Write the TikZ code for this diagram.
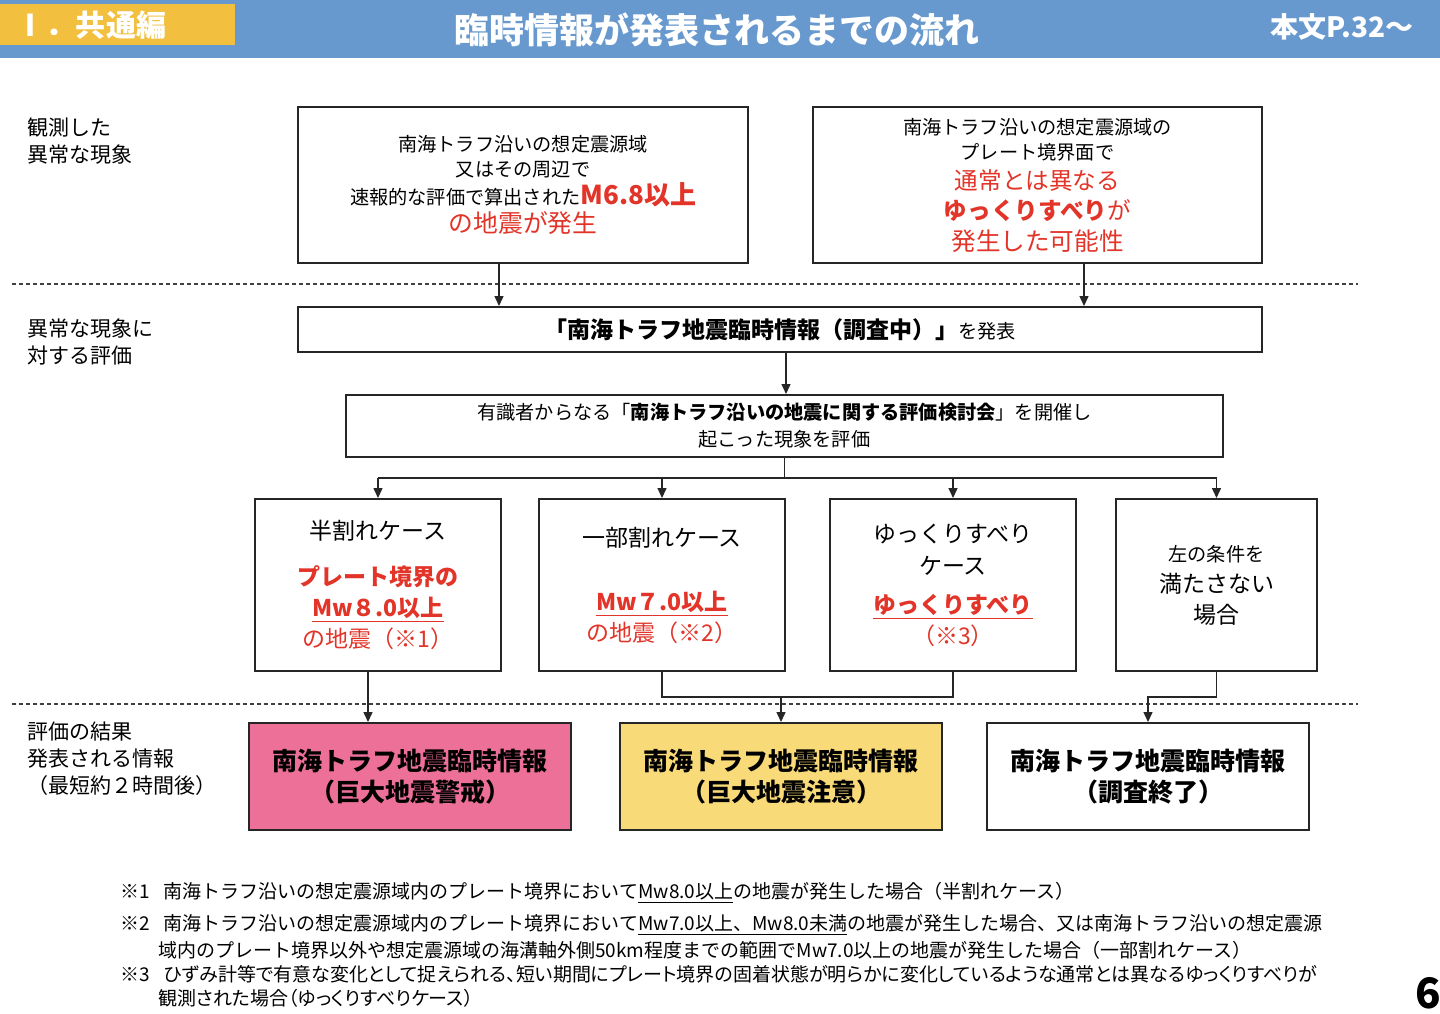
\documentclass[tikz,border=0pt]{standalone}
\usepackage{fontspec}
\setmainfont{Noto Sans CJK JP}
\usetikzlibrary{arrows.meta,positioning,calc}
\newcommand{\fsz}[2]{\fontsize{#1}{#2}\selectfont}
\definecolor{clrR}{RGB}{226,52,40}
\definecolor{clrHead}{RGB}{104,153,206}
\definecolor{clrTab}{RGB}{242,192,62}
\definecolor{clrWarn}{RGB}{236,112,152}
\definecolor{clrAdv}{RGB}{249,218,120}
\tikzset{
  headtext/.style={text=white,inner sep=0pt},
  flowbox/.style={rectangle,draw=black!85,line width=1pt,fill=white,
    align=center,inner sep=2pt,font=\fsz{9.6}{12.5}},
  casebox/.style={flowbox,minimum width=123pt,minimum height=86pt,
    font=\fsz{11.5}{15.5}},
  resultbox/.style={flowbox,minimum width=161pt,minimum height=53.5pt,
    font=\fsz{12.5}{15.5}\bfseries},
  sidelabel/.style={anchor=north west,align=left,inner sep=0pt,
    font=\fsz{10.5}{13.5}},
  note/.style={anchor=west,inner sep=0pt,font=\fsz{9.5}{12}},
  narrownote/.style={note,font=\fsz{9.5}{12}\addfontfeatures{RawFeature=+palt}},
  divider/.style={draw=black!75,line width=0.6pt,dash pattern=on 2pt off 1.5pt},
  link/.style={line width=0.7pt,draw=black!85},
  arrow/.style={link,-{Triangle[length=5pt,width=4.5pt]}}
}

\begin{document}
\begin{tikzpicture}[x=0.5pt,y=-0.5pt]
  \useasboundingbox (0,0) rectangle (1440,1013);

  % header
  \fill[clrHead] (0,0) rectangle (1440,58);
  \fill[clrTab] (0,4) rectangle (235,45);
  \node[headtext,font=\fsz{15}{15}\bfseries] (part) at (91,25) {Ⅰ．共通編};
  \node[headtext,font=\fsz{17.5}{18}\bfseries] (title) at (717,30)
    {臨時情報が発表されるまでの流れ};
  \node[headtext,font=\fsz{14}{14}\bfseries] (pageref) at (1342,27) {本文P.32～};

  % row labels and dividers
  \node[sidelabel] (lblobs) at (27,117) {観測した\\異常な現象};
  \node[sidelabel] (lbleval) at (27,318) {異常な現象に\\対する評価};
  \node[sidelabel] (lblresult) at (27,721)
    {評価の結果\\発表される情報\\（最短約２時間後）};
  \draw[divider] (12,284) -- (1358,284);
  \draw[divider] (12,704) -- (1358,704);

  % observed phenomena
  \node[flowbox,minimum width=225pt,minimum height=78pt] (quake) at (523,185)
    {南海トラフ沿いの想定震源域\\
     又はその周辺で\\[1.5pt]
     速報的な評価で算出された{\fsz{13}{15}\bfseries\color{clrR}M6.8以上}\\[1.5pt]
     {\fsz{12.4}{15}\color{clrR}の地震が発生}};
  \node[flowbox,minimum width=224.5pt,minimum height=78pt] (slip) at (1037.5,185)
    {南海トラフ沿いの想定震源域の\\
     プレート境界面で\\[2.5pt]
     {\fsz{11.8}{15}\color{clrR}通常とは異なる}\\[2.5pt]
     {\fsz{11.8}{15}\color{clrR}\textbf{ゆっくりすべり}が}\\[3pt]
     {\fsz{12.3}{15}\color{clrR}発生した可能性}};

  % evaluation
  \node[flowbox,minimum width=482pt,minimum height=22.5pt] (notice) at (780,329.5)
    {{\fsz{11.5}{14}\bfseries 「南海トラフ地震臨時情報（調査中）」}を発表};
  \node[flowbox,minimum width=438.5pt,minimum height=31pt,
    font=\fsz{9.6}{13.5}] (review) at (784.5,426)
    {有識者からなる「\textbf{南海トラフ沿いの地震に関する評価検討会}」を開催し\\
     起こった現象を評価};

  \draw[arrow] ([xshift=-12pt]quake.south) -- ([xshift=-12pt]quake.south |- notice.north);
  \draw[arrow] ([xshift=23.25pt]slip.south) -- ([xshift=23.25pt]slip.south |- notice.north);
  \draw[arrow] ([xshift=3pt]notice.south) -- ([xshift=3pt]notice.south |- review.north);

  % cases
  \node[casebox] (half) at (378,585)
    {半割れケース\\[7.5pt]
     {\color{clrR}\bfseries プレート境界の}\\
     {\color{clrR}\bfseries\underline{Mw８.0以上}}\\
     {\color{clrR}の地震（※1）}};
  \node[casebox] (partial) at (662,585)
    {一部割れケース\\[16.5pt]
     {\color{clrR}\bfseries\underline{Mw７.0以上}}\\
     {\color{clrR}の地震（※2）}};
  \node[casebox] (slow) at (953,585)
    {ゆっくりすべり\\[0.5pt]
     ケース\\[4pt]
     {\color{clrR}\bfseries\underline{ゆっくりすべり}}\\
     {\color{clrR}（※3）}};
  \node[casebox,minimum width=100.5pt] (other) at (1216.5,585)
    {\fsz{9.6}{12.5}左の条件を\\満たさない\\場合};

  \coordinate (branch) at ($(review.south)+(0,20)$);
  \draw[link] (review.south) -- (branch);
  \draw[link] (branch -| half.north) -- (branch -| other.north);
  \foreach \c in {half,partial,slow,other}
    \draw[arrow] (branch -| \c.north) -- (\c.north);

  % results
  \node[resultbox,fill=clrWarn] (warning) at (410,776.5)
    {南海トラフ地震臨時情報\\（巨大地震警戒）};
  \node[resultbox,fill=clrAdv] (advisory) at (781,776.5)
    {南海トラフ地震臨時情報\\（巨大地震注意）};
  \node[resultbox] (ended) at (1148,776.5)
    {南海トラフ地震臨時情報\\（調査終了）};

  \coordinate (merge) at (781,697);
  \draw[arrow] ([xshift=-5pt]half.south) -- ([xshift=-5pt]half.south |- warning.north);
  \draw[link] (partial.south) |- (merge) -| (slow.south);
  \draw[arrow] (merge) -- (advisory.north);
  \draw[arrow] (other.south) -- (other.south |- merge) -| (ended.north);

  % notes
  \node[note] (note1) at (120,893)
    {※1\hspace{7pt}南海トラフ沿いの想定震源域内のプレート境界において\underline{Mw8.0以上}の地震が発生した場合（半割れケース）};
  \node[note] (note2) at (120,925)
    {※2\hspace{7pt}南海トラフ沿いの想定震源域内のプレート境界において\underline{Mw7.0以上、Mw8.0未満}の地震が発生した場合、又は南海トラフ沿いの想定震源};
  \node[note] (note2b) at (158,950)
    {域内のプレート境界以外や想定震源域の海溝軸外側50km程度までの範囲でMw7.0以上の地震が発生した場合（一部割れケース）};
  \node[narrownote] (note3) at (120,974)
    {※3\hspace{7pt}ひずみ計等で有意な変化として捉えられる、短い期間にプレート境界の固着状態が明らかに変化しているような通常とは異なるゆっくりすべりが};
  \node[narrownote] (note3b) at (158,998) {観測された場合（ゆっくりすべりケース）};

  \node[inner sep=0pt,font=\fsz{21}{21}\bfseries] (pageno) at (1428,993) {6};
\end{tikzpicture}
\end{document}
